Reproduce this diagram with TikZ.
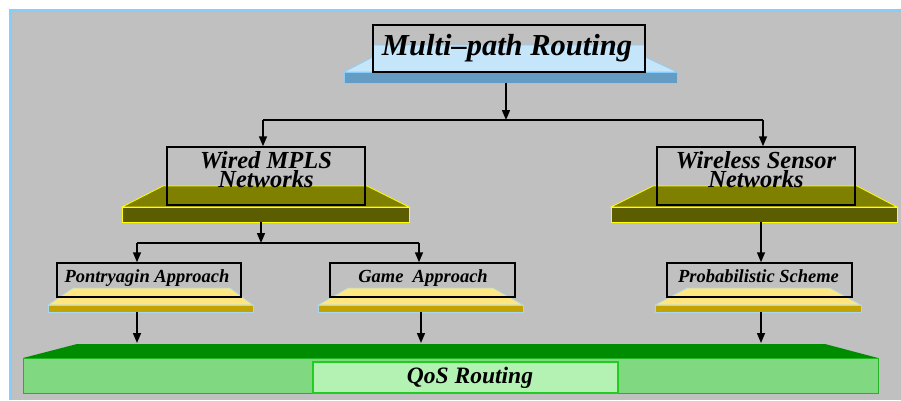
\documentclass[tikz,border=0pt]{standalone}
\usepackage{fontspec}
\setmainfont{Liberation Serif}
\usetikzlibrary{arrows.meta}
\definecolor{bggray}{HTML}{C0C0C0}
\definecolor{frameblue}{HTML}{88CCFA}
\definecolor{mptop}{HTML}{C4E5FA}
\definecolor{mpfront}{HTML}{659CC4}
\definecolor{oltop}{HTML}{808000}
\definecolor{olfront}{HTML}{5C5C00}
\definecolor{oledge}{HTML}{FFFF00}
\definecolor{yltop}{HTML}{FFE680}
\definecolor{ylfront}{HTML}{C4A200}
\definecolor{yledge}{HTML}{A8D8F0}
\definecolor{grtop}{HTML}{008C00}
\definecolor{grfront}{HTML}{80D880}
\definecolor{gredge}{HTML}{22B422}
\definecolor{qosfill}{HTML}{B3F2B3}
\definecolor{qosedge}{HTML}{22CC22}
\begin{document}
\begin{tikzpicture}[x=1pt,y=-1pt,
  box/.style={draw=black,line width=1.5pt,inner sep=0pt,rectangle},
  lbl/.style={anchor=base,inner sep=0pt,font=\bfseries\itshape},
  arr/.style={line width=1.5pt,-{Triangle[length=10pt,width=8pt]}},
  ln/.style={line width=1.5pt}]
\useasboundingbox (0,0) rectangle (901,400);
% background
\fill[frameblue] (9,9) rectangle (901,400);
\fill[bggray] (12,12) rectangle (901,400);

% ---- platforms ----
% Multi-path
\filldraw[fill=mptop,draw=frameblue,line width=0.6pt] (344,72) -- (373,57) -- (373,45) -- (645,45) -- (645,57) -- (677,72) -- cycle;
\filldraw[fill=mpfront,draw=frameblue,line width=0.6pt] (344,72) rectangle (677,83);
% Wired
\filldraw[fill=oltop,draw=oledge,line width=0.8pt] (122,207) -- (163,186) -- (367,186) -- (409,207) -- cycle;
\filldraw[fill=olfront,draw=oledge,line width=0.8pt] (122,207) rectangle (409,222);
% Wireless
\filldraw[fill=oltop,draw=oledge,line width=0.8pt] (611,207) -- (653,186) -- (857,186) -- (897,207) -- cycle;
\filldraw[fill=olfront,draw=oledge,line width=0.8pt] (611,207) rectangle (897,222);
% Pontryagin
\filldraw[fill=yltop,draw=yledge,line width=0.6pt] (48,305) -- (73,288) -- (230,288) -- (253,305) -- cycle;
\filldraw[fill=ylfront,draw=yledge,line width=0.6pt] (48,305) rectangle (253,312);
% Game
\filldraw[fill=yltop,draw=yledge,line width=0.6pt] (318,305) -- (348,288) -- (493,288) -- (523,305) -- cycle;
\filldraw[fill=ylfront,draw=yledge,line width=0.6pt] (318,305) rectangle (523,312);
% Probabilistic
\filldraw[fill=yltop,draw=yledge,line width=0.6pt] (655,305) -- (687,288) -- (830,288) -- (861,305) -- cycle;
\filldraw[fill=ylfront,draw=yledge,line width=0.6pt] (655,305) rectangle (861,312);
% QoS
\fill[grtop] (23,358) -- (77,344) -- (825,344) -- (878,358) -- cycle;
\filldraw[fill=grfront,draw=gredge,line width=0.8pt] (23,358) rectangle (878,393);

% ---- boxes ----
\node[box,minimum width=272pt,minimum height=47pt] (mp) at (509,48.5) {};
\node[box,minimum width=198pt,minimum height=58pt] (wired) at (266,176) {};
\node[box,minimum width=198pt,minimum height=58pt] (wless) at (756,176) {};
\node[box,minimum width=184pt,minimum height=34pt] (pont) at (149,280) {};
\node[box,minimum width=185pt,minimum height=34pt] (game) at (422.5,280) {};
\node[box,minimum width=185pt,minimum height=34pt] (prob) at (759.5,280) {};
\node[box,draw=qosedge,fill=qosfill,minimum width=305pt,minimum height=31pt] (qos) at (465.5,377.5) {};

% ---- labels ----
\node[lbl,font=\fontsize{30.5}{30}\selectfont\bfseries\itshape] (tmp) at (507,55) {Multi--path Routing};
\node[lbl,align=center,font=\fontsize{24.5}{17}\selectfont\bfseries\itshape] (twired) at (266,187) {Wired MPLS\\Networks};
\node[lbl,align=center,font=\fontsize{24.5}{17}\selectfont\bfseries\itshape] (twless) at (756,187) {Wireless Sensor\\Networks};
\node[lbl,font=\fontsize{18.5}{18}\selectfont\bfseries\itshape] (tpont) at (147,282) {Pontryagin Approach};
\node[lbl,font=\fontsize{18.5}{18}\selectfont\bfseries\itshape] (tgame) at (423,282) {Game\ \ Approach};
\node[lbl,font=\fontsize{18.5}{18}\selectfont\bfseries\itshape] (tprob) at (758.5,282) {Probabilistic Scheme};
\node[lbl,font=\fontsize{23.5}{23}\selectfont\bfseries\itshape] (tqos) at (470,383) {QoS Routing};

% ---- platform anchor coordinates ----
\coordinate (mpb) at (506,83);
\coordinate (j1) at (506,120);
\coordinate (j1l) at (263,120);
\coordinate (j1r) at (763,120);
\coordinate (wiredb) at (261,222);
\coordinate (j2) at (261,243);
\coordinate (j2l) at (137,243);
\coordinate (j2r) at (419,243);
\coordinate (wlessb) at (761,222);
\coordinate (pontb) at (137,312);
\coordinate (gameb) at (421,312);
\coordinate (probb) at (761,312);
\coordinate (grtopl) at (137,343);
\coordinate (grtopm) at (421,343);
\coordinate (grtopr) at (761,343);

% ---- connectors ----
\draw[arr] (mpb) -- (j1);
\draw[ln] (j1l) -- (j1r);
\draw[arr] (j1l) -- (j1l |- wired.north);
\draw[arr] (j1r) -- (j1r |- wless.north);
\draw[arr] (wiredb) -- (j2);
\draw[ln] (j2l) -- (j2r);
\draw[arr] (j2l) -- (j2l |- pont.north);
\draw[arr] (j2r) -- (j2r |- game.north);
\draw[arr] (wlessb) -- (wlessb |- prob.north);
\draw[arr] (pontb) -- (grtopl);
\draw[arr] (gameb) -- (grtopm);
\draw[arr] (probb) -- (grtopr);
\end{tikzpicture}
\end{document}
